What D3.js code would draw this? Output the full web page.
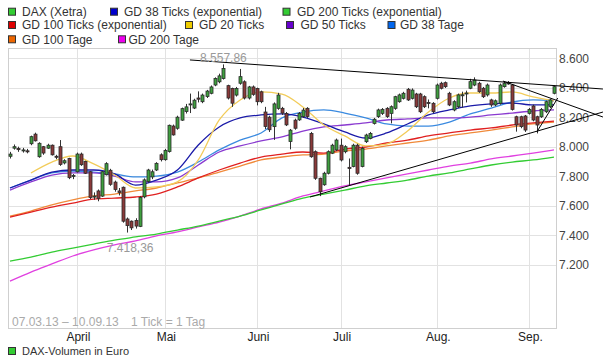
<!DOCTYPE html>
<html><head><meta charset="utf-8">
<script src="https://cdn.jsdelivr.net/npm/d3@7"></script>
<style>body{margin:0;background:#fff;} svg{display:block;font-family:"Liberation Sans",Arial,sans-serif;}</style>
</head><body><svg id="c" width="603" height="355"></svg>
<script>
// ---- DAX (Xetra) daily candles 07.03.13 - 10.09.13 ----
const open  = [7935,7990,7988,7975,7972,8020,8085,7932,8000,7990,8010,7935,8000,7890,7920,7800,7830,7950,7900,7830,7660,7700,7665,7810,7840,7760,7700,7725,7510,7495,7500,7460,7660,7765,7795,7842,7945,7912,7968,8140,8125,8180,8238,8285,8262,8330,8305,8340,8362,8418,8440,8462,8414,8395,8350,8430,8440,8330,8405,8395,8372,8235,8200,8136,8260,8260,8225,8035,8180,8182,8205,8260,8090,7966,7786,7742,7820,7956,7978,8010,7966,7860,7866,8010,7866,8034,8056,8158,8204,8226,8260,8226,8260,8305,8328,8389,8328,8357,8357,8339,8300,8294,8328,8430,8434,8362,8249,8271,8345,8360,8396,8418,8430,8396,8351,8317,8283,8294,8407,8428,8418,8203,8203,8208,8226,8276,8203,8203,8237,8271,8362];
const high  = [7965,8015,8000,7992,7985,8075,8095,8030,8005,8020,8015,7945,8045,7915,7925,7815,7960,7960,7905,7835,7690,7710,7835,7895,7850,7770,7720,7730,7520,7500,7515,7665,7785,7850,7845,7895,7955,7985,8150,8150,8210,8265,8290,8360,8325,8375,8360,8385,8415,8470,8495,8558,8420,8400,8405,8527,8450,8412,8415,8400,8380,8270,8210,8300,8365,8270,8235,8120,8190,8235,8262,8268,8100,7975,7790,7830,7975,8020,8055,8055,8010,7920,8020,8020,8000,8088,8100,8195,8258,8262,8268,8280,8345,8360,8372,8398,8395,8365,8365,8348,8320,8302,8428,8440,8442,8372,8315,8360,8373,8380,8460,8470,8440,8405,8428,8325,8320,8428,8445,8445,8425,8210,8210,8215,8262,8285,8210,8262,8312,8325,8415];
const low   = [7920,7980,7965,7960,7955,8010,8035,7925,7945,7985,7940,7915,7870,7880,7780,7780,7825,7870,7815,7645,7640,7630,7660,7805,7735,7695,7670,7485,7418,7435,7445,7455,7650,7755,7780,7835,7900,7905,7960,8075,8115,8175,8225,8228,8255,8300,8295,8330,8355,8410,8430,8455,8320,8270,8340,8420,8320,8320,8345,8280,8295,8120,8100,8046,8250,8215,8140,7982,8115,8175,8195,8195,7925,7775,7665,7735,7812,7950,7970,7900,7955,7740,7860,7810,7860,8025,8050,8150,8195,8215,8195,8158,8250,8298,8320,8310,8320,8262,8228,8262,8260,8228,8320,8388,8398,8275,8240,8262,8265,8300,8390,8410,8365,8330,8340,8270,8275,8285,8400,8420,8245,8102,8125,8100,8218,8172,8090,8195,8228,8262,8355];
const close = [7950,8000,7980,7978,7965,8068,8040,8023,7957,8010,7945,7930,7880,7905,7790,7805,7950,7878,7820,7655,7665,7650,7830,7885,7745,7710,7690,7495,7465,7450,7462,7655,7775,7842,7830,7887,7912,7975,8145,8080,8200,8258,8270,8290,8315,8322,8350,8377,8405,8462,8480,8530,8330,8295,8395,8475,8330,8405,8355,8305,8305,8137,8115,8290,8350,8228,8148,8112,8125,8225,8248,8205,7932,7786,7695,7820,7966,8010,8045,7910,8000,7852,8010,7820,7989,8079,8090,8186,8249,8253,8204,8271,8339,8351,8362,8317,8384,8271,8237,8271,8295,8237,8418,8396,8407,8283,8305,8351,8352,8364,8441,8452,8373,8339,8418,8283,8311,8418,8430,8432,8253,8147,8136,8113,8253,8181,8147,8253,8305,8317,8407];

// ---- moving averages, read every 5 ticks (index 0..130) ----
const maIndex   = [0,5,10,15,20,25,30,35,40,45,50,55,60,65,70,75,80,85,90,95,100,105,110,115,120,125,130];
const gd38Ticks = [7720,7774,7828,7842,7842,7815,7740,7774,7842,8012,8134,8195,8215,8222,8201,8154,8100,8059,8093,8154,8215,8249,8276,8290,8296,8283,8283];
const gd200Ticks= [7225,7252,7286,7313,7340,7367,7388,7408,7435,7462,7496,7530,7571,7612,7652,7679,7706,7734,7754,7774,7801,7822,7849,7876,7896,7910,7930];
const gd100Ticks= [7523,7557,7591,7618,7645,7652,7659,7679,7727,7788,7842,7889,7930,7950,7964,7957,7984,7998,8025,8045,8073,8093,8113,8127,8147,8161,8174];
const gd20Ticks = [null,7822,7896,7937,7883,7808,7720,7727,7761,7910,8181,8317,8371,8357,8269,8147,8073,8005,8018,8106,8235,8330,8364,8364,8371,8337,8310];
const gd50Ticks = [7706,7761,7808,7822,7822,7801,7761,7761,7788,7876,7964,8005,8039,8066,8106,8134,8147,8161,8181,8188,8195,8195,8201,8215,8228,8242,8249];
const gd38Tage  = [7720,7774,7822,7835,7828,7815,7795,7801,7828,7896,7978,8045,8093,8195,8235,8249,8228,8195,8154,8140,8140,8167,8222,8262,8303,8317,8310];
const gd100Tage = [7530,7564,7605,7639,7666,7679,7700,7720,7754,7788,7828,7869,7910,7930,7944,7950,7971,7984,8005,8025,8045,8073,8093,8113,8134,8154,8167];
const gd200Tage = [7089,7150,7205,7259,7300,7334,7361,7395,7422,7456,7489,7530,7578,7618,7666,7700,7734,7761,7788,7815,7842,7869,7889,7917,7937,7957,7978];

// ---- axis ticks ----
const yTicks = [7200,7400,7600,7800,8000,8200,8400,8600];
const monthTickIndex = [16,37,59,79,102,124];
const monthLabels = ["April","Mai","Juni","Juli","Aug.","Sep."];

// ---- annotations ----
const hiIndex = 51, hiValue = 8557.86;
const loIndex = 28, loValue = 7418.36;
const trendLines = [
  [[43.0,8588],[141.7,8391]],
  [[71.7,7659],[141.7,8235]],
  [[117.8,8445],[141.7,8201]],
  [[125.9,8100],[130.9,8330]]
];

// ---- legend ----
const legendLabels = ["DAX (Xetra)","GD 38 Ticks (exponential)","GD 200 Ticks (exponential)","GD 100 Ticks (exponential)","GD 20 Ticks","GD 50 Ticks","GD 38 Tage","GD 100 Tage","GD 200 Tage"];
const legendColors = ["#33cc33","#0000cc","#33cc33","#dd0000","#eecc00","#6600cc","#0066ee","#ee6600","#ee00ee"];

const svg = d3.select("#c");
const L = 8, R = 556, T = 48, B = 328;
const x = d3.scaleLinear().domain([0,130]).range([10,554]);
const y = d3.scaleLinear().domain([6771,8669]).range([B,T]);
const de = d3.formatLocale({decimal:",",thousands:".",grouping:[3],currency:["","€"]});
const fInt = de.format(",.0f"), fDec = de.format(",.2f");

// legend
const legPos = [[8,11.7],[110,11.7],[282.5,11.7],[8,25],[185,25],[286,25],[387.5,25],[8,39.3],[118,39.3]];
const textX  = [22,124,297,22,199,300.5,400,22,128.5];
legendLabels.forEach((lab,k)=>{
  const [sx,sy] = legPos[k];
  svg.append("rect").attr("x",sx+0.5).attr("y",sy-3.5).attr("width",7).attr("height",7)
    .attr("fill",legendColors[k]).attr("stroke","#333").attr("stroke-width",1);
  svg.append("text").attr("x",textX[k]).attr("y",sy+4.2).attr("font-size",12).attr("fill","#333").text(lab);
});

// grid
const g = svg.append("g");
g.selectAll("line.h").data(yTicks).join("line")
  .attr("x1",L).attr("x2",R).attr("y1",d=>Math.round(y(d))+0.5).attr("y2",d=>Math.round(y(d))+0.5)
  .attr("stroke","#e2e2e2");
g.selectAll("line.v").data(monthTickIndex).join("line")
  .attr("x1",d=>Math.round(x(d))+0.5).attr("x2",d=>Math.round(x(d))+0.5).attr("y1",T).attr("y2",B)
  .attr("stroke","#e2e2e2");
g.append("rect").attr("x",L+0.5).attr("y",T+0.5).attr("width",R-L).attr("height",B-T)
  .attr("fill","none").attr("stroke","#cfcfcf");

// y labels
svg.selectAll("text.yl").data(yTicks).join("text")
  .attr("x",559).attr("y",d=>y(d)+4.5).attr("font-size",12).attr("fill","#444").text(d=>fInt(d));
// month labels
svg.selectAll("text.ml").data(monthTickIndex).join("text")
  .attr("x",d=>x(d)+1.5).attr("y",341).attr("text-anchor","middle").attr("font-size",12).attr("fill","#222")
  .text((d,k)=>monthLabels[k]);
// info text
svg.append("text").attr("x",12).attr("y",326).attr("font-size",12).attr("fill","#aaa").text("07.03.13 – 10.09.13");
svg.append("text").attr("x",131).attr("y",326).attr("font-size",12).attr("fill","#aaa").text("1 Tick = 1 Tag");

// moving averages
const series = [
  [gd200Tage,"#e040e0"],[gd200Ticks,"#33cc33"],[gd100Tage,"#f08a3a"],[gd100Ticks,"#e02020"],
  [gd38Tage,"#3a8ae0"],[gd50Ticks,"#8a3ad0"],[gd38Ticks,"#1a1aa8"],[gd20Ticks,"#f2cc5a"]
];
const line = d3.line().defined(d=>d[1]!=null).x(d=>x(d[0])).y(d=>y(d[1])).curve(d3.curveMonotoneX);
series.forEach(([vals,col])=>{
  svg.append("path").attr("d",line(maIndex.map((ix,k)=>[ix,vals[k]])))
    .attr("fill","none").attr("stroke",col).attr("stroke-width",1.3);
});

// candles
const idx = d3.range(open.length);
const cg = svg.append("g");
cg.selectAll("line").data(idx).join("line")
  .attr("x1",i=>Math.round(x(i))+0.5).attr("x2",i=>Math.round(x(i))+0.5)
  .attr("y1",i=>y(high[i])).attr("y2",i=>y(low[i])).attr("stroke","#333").attr("stroke-width",1);
cg.selectAll("rect").data(idx).join("rect")
  .attr("x",i=>Math.round(x(i))-1).attr("width",3)
  .attr("y",i=>y(Math.max(open[i],close[i])))
  .attr("height",i=>Math.max(1,Math.abs(y(open[i])-y(close[i]))))
  .attr("fill",i=>close[i]>=open[i]?"#3f9f3f":"#8b3a3a")
  .attr("stroke","#2a2a2a").attr("stroke-width",0.8);

// trend lines
svg.selectAll("line.tr").data(trendLines).join("line")
  .attr("x1",d=>x(d[0][0])).attr("y1",d=>y(d[0][1])).attr("x2",d=>x(d[1][0])).attr("y2",d=>y(d[1][1]))
  .attr("stroke","#000").attr("stroke-width",1);

// hi/lo labels
svg.append("text").attr("x",x(hiIndex)).attr("y",y(hiValue)-2.5).attr("text-anchor","middle")
  .attr("font-size",12).attr("fill","#999").text(fDec(hiValue));
svg.append("text").attr("x",x(loIndex)+3).attr("y",252).attr("text-anchor","middle")
  .attr("font-size",12).attr("fill","#999").text(fDec(loValue));

// volume legend (at the bottom edge)
svg.append("rect").attr("x",8.5).attr("y",347.5).attr("width",7).attr("height",7).attr("fill","#33cc33").attr("stroke","#333");
svg.append("text").attr("x",22).attr("y",354.5).attr("font-size",11).attr("fill","#333").text("DAX-Volumen in Euro");
</script></body></html>
